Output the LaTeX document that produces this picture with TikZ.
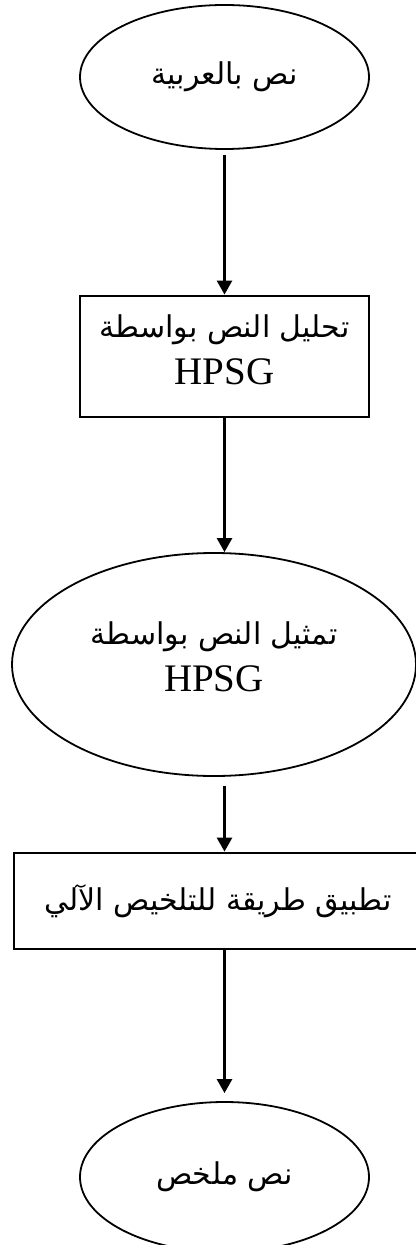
\documentclass[tikz,border=0pt]{standalone}
\usepackage{fontspec}
\setmainfont{Liberation Serif}
\newfontfamily\arabicfont[Script=Arabic]{DejaVu Sans}
\TeXXeTstate=1
\usetikzlibrary{shapes.geometric,arrows.meta}
\newcommand{\artext}[1]{{\arabicfont\fontsize{15pt}{23.5pt}\selectfont\beginR #1\endR}}

\begin{document}
\begin{tikzpicture}[x=0.5pt,y=-0.5pt,>={Triangle[width=7.5pt,length=7pt]},
    font=\fontsize{19.5pt}{23.5pt}\selectfont,
    oval/.style={draw,ellipse,line width=0.9pt,inner sep=0pt,align=center},
    box/.style={draw,rectangle,line width=1.4pt,inner sep=0pt,align=center},
    flow/.style={->,line width=1.3pt}]
        \useasboundingbox (0,0) rectangle (416,1245);
        \node[oval,minimum width=144.5pt,minimum height=72pt] (source) at (224.5,77) {\artext{نص بالعربية}};
        \node[box,minimum width=144.5pt,minimum height=60.5pt,text depth=7pt] (parse) at (224.5,356.5) {\artext{تحليل النص بواسطة}\\HPSG};
        \node[oval,minimum width=202pt,minimum height=111.5pt,text depth=8pt] (repr) at (214,664.5) {\artext{تمثيل النص بواسطة}\\HPSG};
        \node[box,minimum width=204pt,minimum height=48pt] (summ) at (218,901) {\artext{تطبيق طريقة للتلخيص الآلي}};
        \node[oval,minimum width=144.5pt,minimum height=75pt] (result) at (224.5,1177) {\artext{نص ملخص}};
        \draw[flow,shorten <=2.5pt] (source) -- (parse);
        \draw[flow] (parse.south) -- (parse.south |- repr.north);
        \draw[flow,shorten <=4.5pt] (parse.south |- repr.south) -- (parse.south |- summ.north);
        \draw[flow,shorten >=4pt] (parse.south |- summ.south) -- (result.north);
      \end{tikzpicture}
\end{document}
